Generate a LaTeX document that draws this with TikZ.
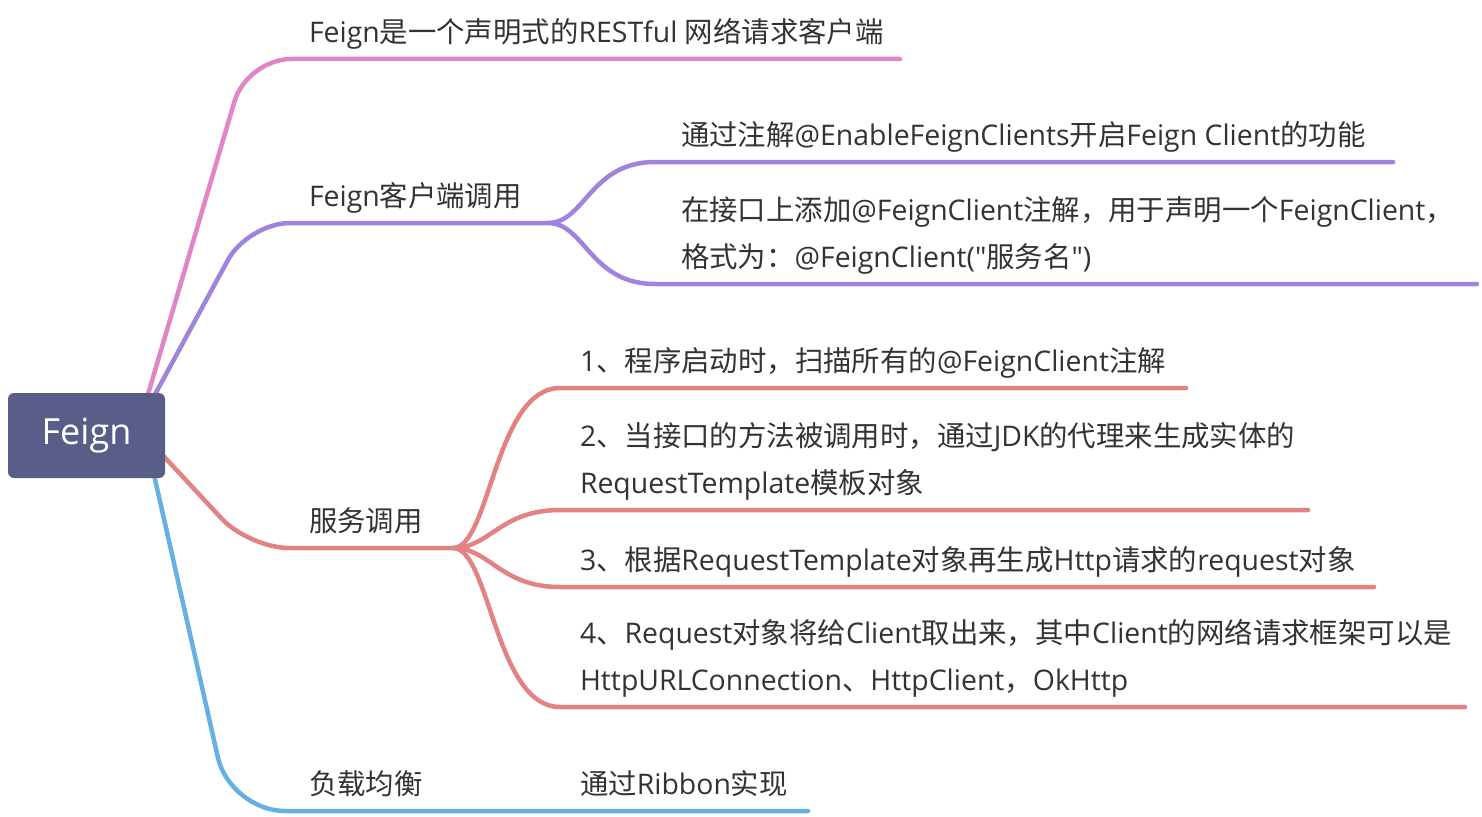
\documentclass[tikz,border=0pt]{standalone}
\usepackage{fontspec}
\setmainfont{Open Sans}[Ligatures=TeXOff]
\newfontfamily\cjkfont{Noto Sans CJK SC}
\newcommand\zhs[1]{{\cjkfont #1}}
\definecolor{pinkc}{HTML}{E085C5}
\definecolor{purpc}{HTML}{A083DD}
\definecolor{redc}{HTML}{E38283}
\definecolor{bluec}{HTML}{66B0E3}
\definecolor{rootc}{HTML}{585E88}
\definecolor{txtc}{HTML}{333333}
\tikzset{
  br/.style={line width=4.5pt, line cap=round, line join=round},
  lbl/.style={anchor=base west, inner sep=0pt, outer sep=0pt, text=txtc, font=\fontsize{28.4}{34}\selectfont},
  rootbox/.style={fill=rootc, rounded corners=6pt, minimum width=157pt, minimum height=85pt, inner sep=0pt, text=white, font=\fontsize{36}{40}\selectfont},
}
\begin{document}
\begin{tikzpicture}[x=1pt,y=-1pt]
\useasboundingbox (0,0) rectangle (1482,816);
% coordinates
\coordinate (o1) at (136,435);
\coordinate (k1) at (247,59);
\coordinate (e1) at (900,59);
\coordinate (o2) at (133,435);
\coordinate (k2) at (248,223);
\coordinate (j2) at (548,223);
\coordinate (p1s) at (655,162);
\coordinate (p1e) at (1393,162);
\coordinate (p2s) at (655,284);
\coordinate (p2e) at (1477,284);
\coordinate (o3) at (130,420);
\coordinate (k3) at (249,548);
\coordinate (j3) at (453,548);
\coordinate (r1s) at (560,388);
\coordinate (r1e) at (1186,388);
\coordinate (r2s) at (560,510);
\coordinate (r2e) at (1308,510);
\coordinate (r3s) at (560,587);
\coordinate (r3e) at (1374,587);
\coordinate (r4s) at (560,707);
\coordinate (r4e) at (1465,707);
\coordinate (o4) at (145,435);
\coordinate (k4) at (230,811);
\coordinate (e4) at (808,811);
% branches
\draw[br,pinkc,rounded corners=44pt] (o1) -- (k1) -- (e1);
\draw[br,purpc,rounded corners=42pt] (o2) -- (k2) -- (j2);
\draw[br,purpc] (j2) .. controls (585,223) and (590,162) .. (p1s) -- (p1e);
\draw[br,purpc] (j2) .. controls (585,223) and (590,284) .. (p2s) -- (p2e);
\draw[br,redc,rounded corners=40pt] (o3) -- (k3) -- (j3);
\draw[br,redc] (j3) .. controls (490,548) and (495,388) .. (r1s) -- (r1e);
\draw[br,redc] (j3) .. controls (490,548) and (500,510) .. (r2s) -- (r2e);
\draw[br,redc] (j3) .. controls (490,548) and (500,587) .. (r3s) -- (r3e);
\draw[br,redc] (j3) .. controls (490,548) and (495,707) .. (r4s) -- (r4e);
\draw[br,bluec,rounded corners=55pt] (o4) -- (k4) -- (e4);
% root
\node[rootbox] (root) at (86.5,435.5) {Feign};
% labels
\node[lbl] (t1) at (309,42.5) {Feign\zhs{是一个声明式的}RESTful \zhs{网络请求客户端}};
\node[lbl] (t2) at (309,206.5) {Feign\zhs{客户端调用}};
\node[lbl] (t21) at (681,145.5) {\zhs{通过注解}@EnableFeignClients\zhs{开启}Feign Client\zhs{的功能}};
\node[lbl] (t22a) at (681,220.5) {\zhs{在接口上添加}@FeignClient\zhs{注解，用于声明一个}FeignClient\zhs{，}};
\node[lbl] (t22b) at (681,267.5) {\zhs{格式为：}@FeignClient("\zhs{服务名}")};
\node[lbl] (t3) at (309,531.5) {\zhs{服务调用}};
\node[lbl] (t31) at (580,371.5) {1\zhs{、程序启动时，扫描所有的}@FeignClient\zhs{注解}};
\node[lbl] (t32a) at (580,446.5) {2\zhs{、当接口的方法被调用时，通过}JDK\zhs{的代理来生成实体的}};
\node[lbl] (t32b) at (580,493.5) {RequestTemplate\zhs{模板对象}};
\node[lbl] (t33) at (580,570.5) {3\zhs{、根据}RequestTemplate\zhs{对象再生成}Http\zhs{请求的}request\zhs{对象}};
\node[lbl] (t34a) at (580,643.5) {4\zhs{、}Request\zhs{对象将给}Client\zhs{取出来，其中}Client\zhs{的网络请求框架可以是}};
\node[lbl] (t34b) at (580,690.5) {HttpURLConnection\zhs{、}HttpClient\zhs{，}OkHttp};
\node[lbl] (t4) at (309,794.5) {\zhs{负载均衡}};
\node[lbl] (t41) at (580,794.5) {\zhs{通过}Ribbon\zhs{实现}};
\end{tikzpicture}
\end{document}
